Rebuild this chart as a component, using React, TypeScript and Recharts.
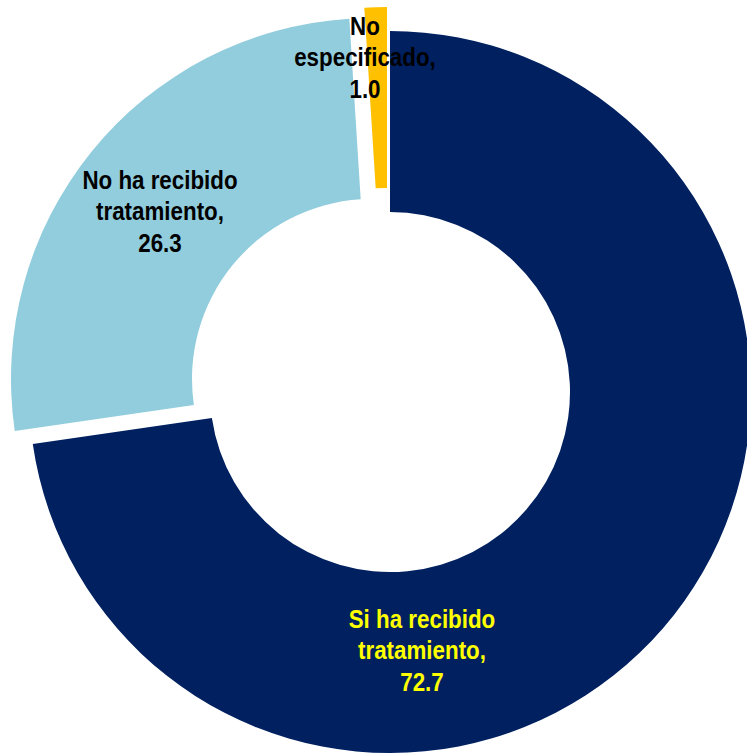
import { Cell, Pie, PieChart } from 'recharts';

const CATEGORIES = ['Si ha recibido tratamiento', 'No ha recibido tratamiento', 'No especificado'];
const VALUES = [72.7, 26.3, 1.0];
const LABEL_LINES = [
  ['Si ha recibido', 'tratamiento,'],
  ['No ha recibido', 'tratamiento,'],
  ['No', 'especificado,'],
];

const COLORS = ['#002060', '#92CDDD', '#FFC000'];
const LABEL_COLORS = ['#FFFF00', '#000000', '#000000'];

// each slice is pulled out a little from the middle, like the original
const SLICE_CENTERS = [
  { cx: 390, cy: 392 },
  { cx: 372, cy: 379 },
  { cx: 387, cy: 368 },
];
// label block centre, relative to its slice centre
const LABEL_OFFSETS = [
  { dx: 32, dy: 258 },
  { dx: -212, dy: -168 },
  { dx: -22, dy: -311 },
];

const OUTER = 361;
const INNER = 180;
const LINE_H = 31.5;
const FONT = '"Liberation Sans Narrow", "Arial Narrow", "Liberation Sans", Arial, sans-serif';
const NARROW = 0.86; // no narrow font installed, so squeeze the regular one

const data = CATEGORIES.map((name, i) => ({ name, value: VALUES[i] }));

function makeLabel(idx: number) {
  return (props: any) => {
    if (props.index !== idx) return null;
    const lines = [...LABEL_LINES[idx], props.value.toFixed(1)];
    const x = props.cx + LABEL_OFFSETS[idx].dx;
    const y0 = props.cy + LABEL_OFFSETS[idx].dy - LINE_H;
    return (
      <text
        x={x}
        y={y0}
        textAnchor="middle"
        fontFamily={FONT}
        fontSize={26}
        fontWeight="bold"
        fill={LABEL_COLORS[idx]}
        transform={`translate(${x},0) scale(${NARROW},1) translate(${-x},0)`}
      >
        {lines.map((l, i) => (
          <tspan key={i} x={x} y={y0 + i * LINE_H} dominantBaseline="central">
            {l}
          </tspan>
        ))}
      </text>
    );
  };
}

export default function App() {
  return (
    <div style={{ position: 'absolute', left: 0, top: 0, width: 747, height: 754, background: '#fff' }}>
      <PieChart width={747} height={754} margin={{ top: 0, right: 0, bottom: 0, left: 0 }}>
        {SLICE_CENTERS.map((c, idx) => (
          <Pie
            key={idx}
            data={data}
            dataKey="value"
            nameKey="name"
            cx={c.cx}
            cy={c.cy}
            outerRadius={OUTER}
            innerRadius={INNER}
            startAngle={90}
            endAngle={-270}
            stroke="none"
            label={makeLabel(idx)}
            labelLine={false}
            isAnimationActive={false}
          >
            {data.map((_, i) => (
              <Cell key={`cell-${i}`} fill={i === idx ? COLORS[i] : 'none'} stroke="none" />
            ))}
          </Pie>
        ))}
      </PieChart>
    </div>
  );
}
